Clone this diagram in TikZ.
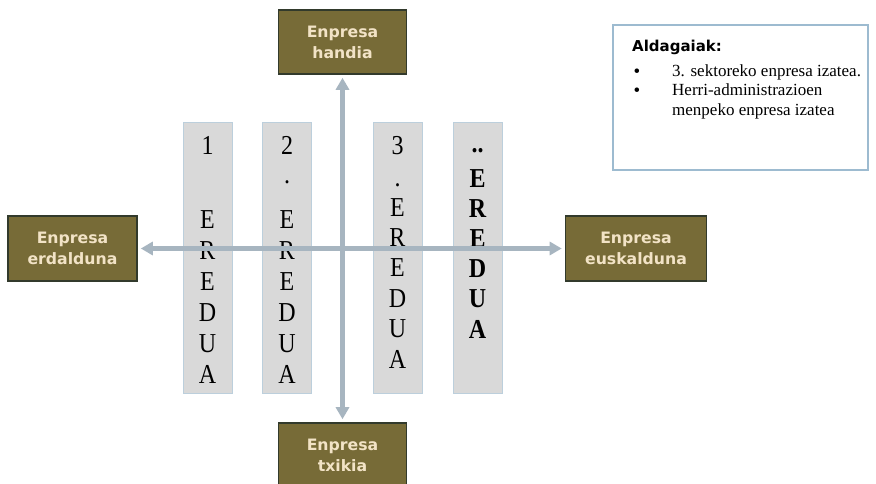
\documentclass[tikz,border=0pt]{standalone}
\usepackage{fontspec}
\usepackage{graphicx}
\setmainfont{Liberation Serif}
\newfontfamily\boxfont{DejaVu Sans}
\usetikzlibrary{arrows.meta}
\definecolor{olivebox}{RGB}{119,107,55}
\definecolor{oliveline}{RGB}{50,58,44}
\definecolor{boxtext}{RGB}{242,227,198}
\definecolor{axisgray}{RGB}{167,181,192}
\definecolor{colfill}{RGB}{217,217,217}
\definecolor{colline}{RGB}{188,207,220}
\definecolor{legline}{RGB}{157,187,208}
\newcommand{\luze}[1]{\scalebox{1}[1.14]{#1}}
\begin{document}
\begin{tikzpicture}[x=1pt, y=-1pt,
    enpresa/.style={draw=oliveline, line width=1.6pt, fill=olivebox, text=boxtext,
        font=\boxfont\bfseries\fontsize{15.7}{21}\selectfont, align=center,
        minimum width=128pt, minimum height=64pt, inner sep=0pt},
    zutabe/.style={draw=colline, line width=0.8pt, fill=colfill,
        minimum width=49pt, minimum height=271pt, inner sep=0pt},
    letra/.style={anchor=base, inner sep=0pt, font=\fontsize{24}{24}\selectfont},
    ardatz/.style={draw=axisgray, line width=4.5pt,
        {Triangle[length=12pt, width=13pt]}-{Triangle[length=12pt, width=13pt]},
        shorten <=3pt, shorten >=3pt}]
    \useasboundingbox[fill=white] (0,0) rectangle (876,484);

    % ereduen zutabeak
    \node[zutabe] (eredua1) at (207.5, 257.5) {};
    \node[zutabe] (eredua2) at (287, 257.5) {};
    \node[zutabe] (eredua3) at (397.5, 257.5) {};
    \node[zutabe] (eredua4) at (477.5, 257.5) {};

    \node[letra] (z1) at (207.5, 155) {\luze{1}};
    \node[letra] (z2) at (287, 155) {\luze{2}};
    \node[letra] (p2) at (287, 184) {\luze{.}};
    \node[letra] (z3) at (397.5, 155) {\luze{3}};
    \node[letra] (p3) at (397.5, 186) {\luze{.}};
    \node[letra, font=\fontsize{24}{24}\selectfont\bfseries] (p4) at (477.5, 153) {\luze{..}};
    \foreach \n/\x/\y/\d in {1/207.5/229/30.8, 2/287/229/30.8, 3/397.5/216/30.4}
        \foreach \ch [count=\i] in {E,R,E,D,U,A}
            \node[letra] (e\n-\i) at (\x, {\y+\d*(\i-1)}) {\luze{\ch}};
    \foreach \ch [count=\i] in {E,R,E,D,U,A}
        \node[letra, font=\fontsize{24}{24}\selectfont\bfseries] (e4-\i) at (477.5, {187+30.2*(\i-1)}) {\luze{\ch}};

    % enpresa motak
    \node[enpresa] (handia) at (342.5, 42) {Enpresa\\handia};
    \node[enpresa] (txikia) at (342.5, 455) {Enpresa\\txikia};
    \node[enpresa, minimum width=129pt, minimum height=65pt] (erdalduna) at (72.5, 248.5) {Enpresa\\erdalduna};
    \node[enpresa, minimum width=141pt, minimum height=65pt] (euskalduna) at (636, 248.5) {Enpresa\\euskalduna};

    % ardatzak
    \draw[ardatz] (erdalduna) -- (euskalduna);
    \draw[ardatz] (handia) -- (txikia);

    % aldagaiak
    \node[draw=legline, line width=1.2pt, fill=white, minimum width=255pt, minimum height=145pt,
        inner sep=0pt] (aldagaiak) at (740.5, 97.5) {};
    \node[anchor=base west, inner sep=0pt, font=\boxfont\bfseries\fontsize{15}{18}\selectfont] (izenburu) at (632, 52) {Aldagaiak:};
    \node[anchor=base, inner sep=0pt, font=\fontsize{19}{20}\selectfont] (b1) at (637, 78) {\textbullet};
    \node[anchor=base, inner sep=0pt, font=\fontsize{19}{20}\selectfont] (b2) at (637, 97) {\textbullet};
    \node[anchor=base west, inner sep=0pt, font=\fontsize{17}{20}\selectfont] (t1) at (672, 77) {3. sektoreko enpresa izatea.};
    \node[anchor=base west, inner sep=0pt, font=\fontsize{17}{20}\selectfont] (t2) at (672, 96) {Herri-administrazioen};
    \node[anchor=base west, inner sep=0pt, font=\fontsize{17}{20}\selectfont] (t3) at (672, 116) {menpeko enpresa izatea};
\end{tikzpicture}
\end{document}
